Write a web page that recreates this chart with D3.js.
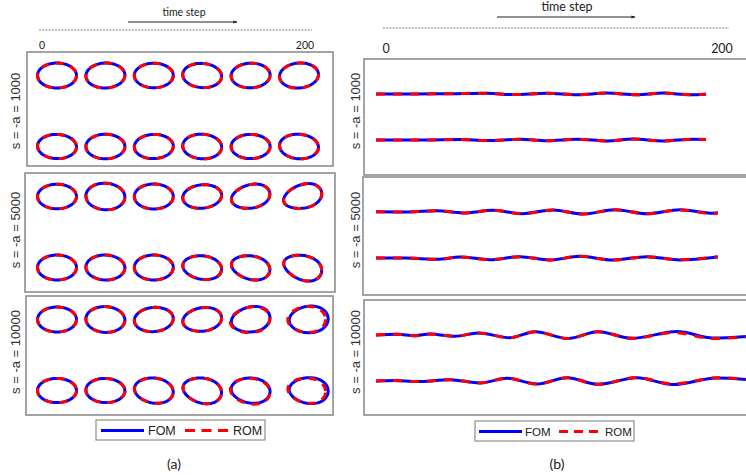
<!DOCTYPE html>
<html>
<head>
<meta charset="utf-8">
<script src="https://cdnjs.cloudflare.com/ajax/libs/d3/7.8.5/d3.min.js"></script>
<style>
body { margin: 0; background: #fff; }
svg { display: block; }
.hdr { font-family: Lato, "Open Sans", sans-serif; fill: #222; }
.lab { font-family: "Liberation Sans", Arial, sans-serif; fill: #333; }
</style>
</head>
<body>
<div id="graph"></div>
<script>
const W = 746, H = 475;
const blue = "#0000ff", red = "#ff0000";

const steps = [0, 40, 80, 120, 160, 200];
const sLabels = ["s = -a = 1000", "s = -a = 5000", "s = -a = 10000"];
const legendKeys = ["FOM", "ROM"];
const panelNames = ["(a)", "(b)"];

// (a) shape of the ring at each step: [panel][row][step]
const tilt = [
	[[0, -2, 0, 4, -2, -5], [2, 0, -2, 3, 0, 4]],
	[[0, 3, 0, -6, -12, -15], [0, 2, 0, 8, 12, 17]],
	[[0, 3, -5, -8, -10, -4], [0, 2, 8, 12, 6, 4]]
];
const aspect = [
	[[.64, .64, .63, .62, .63, .64], [.62, .63, .62, .63, .62, .63]],
	[[.63, .68, .64, .6, .6, .6], [.64, .64, .64, .6, .6, .62]],
	[[.64, .66, .62, .6, .64, .68], [.62, .62, .64, .64, .64, .66]]
];
const egg = [
	[[0, 0, 0, 0, 0, 0], [0, 0, 0, 0, 0, 0]],
	[[0, 0, 0, 0, .08, .12], [0, 0, 0, .05, .1, .14]],
	[[0, 0, 0, .05, .1, .08], [0, 0, .05, .1, .08, .1]]
];
const drift = [
	[[0, 0, 0, 0, 0, 0], [0, 0, 0, 0, 0, 0]],
	[[0, 0, 0, 0, 0, 3], [0, 0, 0, 0, 0, 3]],
	[[0, 0, 0, 0, 0, 8], [0, 0, 0, 0, 0, 8]]
];
// where ROM leaves FOM: panel, row, step index, dx, dy, scale, extra tilt
const romDev = [
	[2, 0, 4, -0.5, 0.5, 1.02, 2],
	[2, 0, 5, -2, 0, 0.97, 3],
	[2, 1, 4, -0.5, 0.5, 1.02, 2],
	[2, 1, 5, -2, 0, 0.97, 3]
];

// (b) beam deflection: [position 0-100, deflection]
const waveFOM = [
	[
		[[0, 0], [10, 0], [20, 0.3], [30, 0.8], [37, -0.6], [46.2, 0.8], [54.3, -0.7], [62.4, 0.9], [70.5, -0.7], [77.6, 0.9], [84.9, -0.7], [89.2, -0.2]],
		[[0, 0], [12, 0], [22.7, 0.6], [30, -0.6], [38.9, 0.8], [46.2, -0.8], [54.3, 0.8], [62.4, -0.9], [69.5, 0.9], [77.6, -0.9], [85.7, 0.8], [89.2, 0.4]]
	],
	[
		[[0, 0.2], [8.6, 0], [16.5, 1.3], [23.5, -1], [31.6, 1.7], [39.5, -1.7], [47.8, 2], [55.9, -2], [64.6, 2.3], [73.2, -1.7], [82.2, 2.3], [91.1, -1.3], [92.4, -0.8]],
		[[0, 0], [8, 0], [16.5, -1.3], [22.7, 1], [30.8, -1.7], [38.9, 1.3], [47, -2], [55.1, 1.7], [64, -2], [73.2, 1.3], [82.2, -2], [92.4, 1]]
	],
	[
		[[0, 0], [5.7, 0.7], [10.5, -0.7], [14.6, 1], [21.4, -1.3], [27.6, 2], [36.2, -2.7], [43, 3.3], [51.9, -3.5], [60, 3.3], [69.2, -3.3], [81.4, 3.5], [91.1, -3], [100, -1.5]],
		[[0, 0], [5, 0.6], [11, -0.6], [20, 1.3], [28.1, -2], [35.4, 2.7], [43.5, -3], [51.6, 3.3], [60, -3.3], [70.5, 3.3], [80.3, -3.6], [92.2, 3], [100, 1.5]]
	]
];
const waveROM = [
	waveFOM[0],
	[
		[[0, 0.2], [8.6, 0], [16.5, 1.3], [23.5, -1], [31.6, 1.7], [39.5, -1.7], [47.8, 2], [55.9, -2], [64.6, 2.3], [73.2, -1.7], [82.2, 2.0], [91.1, -1.6], [92.4, -1.1]],
		[[0, 0], [8, 0], [16.5, -1.3], [22.7, 1], [30.8, -1.7], [38.9, 1.3], [47, -2], [55.1, 1.7], [64, -2], [73.2, 1.3], [82.2, -1.6], [92.4, 1.3]]
	],
	[
		[[0, 0], [5.7, 0.7], [10.5, -0.7], [14.6, 1], [21.4, -1.3], [27.6, 2], [36.2, -2.7], [43, 3.3], [51.9, -3.5], [60, 3.3], [69.2, -3.3], [80.5, 2.4], [91.1, -3.5], [100, -1.8]],
		[[0, 0], [5, 0.6], [11, -0.6], [20, 1.3], [28.1, -2], [35.4, 2.7], [43.5, -3], [51.6, 3.3], [60, -3.3], [70.5, 3.5], [80.3, -2.9], [92.2, 3.2], [100, 1.6]]
	]
];

const svg = d3.select("#graph").append("svg")
	.attr("width", W)
	.attr("height", H);

const boxA = [{x: 27, y: 52, w: 306, h: 114}, {x: 25, y: 173, w: 310, h: 119}, {x: 26, y: 296, w: 307, h: 119}];
const boxB = [{x: 364, y: 59, w: 400, h: 116}, {x: 363, y: 177, w: 400, h: 118}, {x: 364, y: 300, w: 400, h: 115}];
const labelY = [111, 230, 352];

svg.append("defs").append("marker")
	.attr("id", "arrow")
	.attr("viewBox", "0 0 10 10")
	.attr("refX", 9).attr("refY", 5)
	.attr("markerWidth", 4).attr("markerHeight", 4)
	.attr("orient", "auto")
	.append("path").attr("d", "M0,1 L10,5 L0,9 Z").attr("fill", "#222");

// header: time axis above each half
function header(opt) {
	const x = d3.scaleLinear().domain([0, 200]).range(opt.range);
	svg.append("text").attr("class", "hdr")
		.attr("x", opt.titleX).attr("y", opt.titleY)
		.attr("text-anchor", "middle")
		.style("font-size", opt.fs + "px")
		.text("time step");
	svg.append("line")
		.attr("x1", opt.arrow[0]).attr("x2", opt.arrow[1])
		.attr("y1", opt.arrowY).attr("y2", opt.arrowY)
		.attr("stroke", "#222").attr("stroke-width", 1)
		.attr("marker-end", "url(#arrow)");
	svg.append("line")
		.attr("x1", opt.dash[0]).attr("x2", opt.dash[1])
		.attr("y1", opt.dashY).attr("y2", opt.dashY)
		.attr("stroke", "#777").attr("stroke-width", 1)
		.attr("stroke-dasharray", "2,1.2");
	svg.selectAll(null)
		.data([0, 200])
		.enter().append("text").attr("class", "hdr")
		.attr("x", (d) => x(d))
		.attr("y", opt.tickY)
		.attr("text-anchor", "middle")
		.style("font-size", opt.fs + "px")
		.text((d) => d);
}

header({range: [42, 305], titleX: 184, titleY: 16, fs: 10.5, arrow: [128, 237], arrowY: 22, dash: [39, 312], dashY: 30, tickY: 49});
header({range: [386, 722], titleX: 567, titleY: 11, fs: 12.5, arrow: [497, 635], arrowY: 17, dash: [383, 729], dashY: 28, tickY: 53});

function frames(boxes) {
	svg.selectAll(null)
		.data(boxes)
		.enter().append("rect")
		.attr("x", (d) => d.x).attr("y", (d) => d.y)
		.attr("width", (d) => d.w).attr("height", (d) => d.h)
		.attr("fill", "none")
		.attr("stroke", "#8e8e8e")
		.attr("stroke-width", 1.6);
}
frames(boxA);
frames(boxB);

[15, 355].forEach((lx) => {
	svg.selectAll(null)
		.data(sLabels)
		.enter().append("text").attr("class", "lab")
		.attr("transform", (d, i) => "translate(" + lx + "," + labelY[i] + ") rotate(-90)")
		.attr("dy", "0.35em")
		.attr("text-anchor", "middle")
		.style("font-size", "13px")
		.text((d) => d);
});

// (a) rings
const xCol = d3.scaleLinear().domain([0, 200]).range([57, 299]);
const ring = d3.line().curve(d3.curveLinearClosed);
const RX = 19.5;

function ringPoints(rx, ry, rot, eg) {
	const a = rot * Math.PI / 180, pts = [];
	for (let i = 0; i < 90; i++) {
		const t = i / 90 * 2 * Math.PI;
		const x = rx * Math.cos(t);
		const y = ry * Math.sin(t) * (1 + eg * Math.cos(t));
		pts.push([x * Math.cos(a) - y * Math.sin(a), x * Math.sin(a) + y * Math.cos(a)]);
	}
	return pts;
}

let rings = [];
boxA.forEach((b, p) => {
	[0, 1].forEach((r) => {
		steps.forEach((s, c) => {
			const dev = romDev.find((v) => v[0] === p && v[1] === r && v[2] === c);
			rings.push({
				cx: xCol(s + drift[p][r][c]),
				cy: b.y + 23.5 + r * 71,
				rot: tilt[p][r][c],
				ry: RX * aspect[p][r][c],
				egg: egg[p][r][c],
				dev: dev || [p, r, c, 0, 0, 1, 0]
			});
		});
	});
});

const g = svg.append("g");
g.selectAll(".fom")
	.data(rings)
	.enter().append("path")
	.attr("transform", (d) => "translate(" + d.cx + "," + d.cy + ")")
	.attr("d", (d) => ring(ringPoints(RX, d.ry, d.rot, d.egg)))
	.attr("fill", "none")
	.attr("stroke", blue)
	.attr("stroke-width", 3);

g.selectAll(".rom")
	.data(rings)
	.enter().append("path")
	.attr("transform", (d) => "translate(" + (d.cx + d.dev[3]) + "," + (d.cy + d.dev[4]) + ")")
	.attr("d", (d) => ring(ringPoints(RX * d.dev[5], d.ry * d.dev[5], d.rot + d.dev[6], d.egg)))
	.attr("fill", "none")
	.attr("stroke", red)
	.attr("stroke-width", 3)
	.attr("stroke-dasharray", "8,7");

// (b) beams
const xPos = d3.scaleLinear().domain([0, 100]).range([376, 746]);
const yDef = d3.scaleLinear().domain([-4, 4]).range([4, -4]);

boxB.forEach((b, p) => {
	[0, 1].forEach((r) => {
		const base = b.y + 35 + r * 46;
		const line = d3.line()
			.x((d) => xPos(d[0]))
			.y((d) => base + yDef(d[1]))
			.curve(d3.curveMonotoneX);
		svg.append("path")
			.attr("d", line(waveFOM[p][r]))
			.attr("fill", "none")
			.attr("stroke", blue)
			.attr("stroke-width", 3);
		svg.append("path")
			.attr("d", line(waveROM[p][r]))
			.attr("fill", "none")
			.attr("stroke", red)
			.attr("stroke-width", 3)
			.attr("stroke-dasharray", "9,8");
	});
});

// legends
function legend(opt) {
	const lg = svg.append("g").attr("transform", "translate(" + opt.x + "," + opt.y + ")");
	lg.append("rect")
		.attr("width", opt.w).attr("height", 20)
		.attr("fill", "#fff").attr("stroke", "#8e8e8e").attr("stroke-width", 1.2);
	lg.append("line")
		.attr("x1", opt.l1[0]).attr("x2", opt.l1[1]).attr("y1", 10.5).attr("y2", 10.5)
		.attr("stroke", blue).attr("stroke-width", 3);
	lg.append("line")
		.attr("x1", opt.l2[0]).attr("x2", opt.l2[1]).attr("y1", 10.5).attr("y2", 10.5)
		.attr("stroke", red).attr("stroke-width", 3)
		.attr("stroke-dasharray", opt.dash);
	lg.selectAll(null)
		.data(legendKeys)
		.enter().append("text").attr("class", "lab")
		.attr("x", (d, i) => opt.tx[i])
		.attr("y", 15)
		.style("font-size", opt.fs + "px")
		.style("fill", "#222")
		.text((d) => d);
}
legend({x: 96, y: 420, w: 169, l1: [5, 48], l2: [89, 132], tx: [52, 137], dash: "10,6.5", fs: 12.5});
legend({x: 475, y: 421, w: 159, l1: [4, 47], l2: [84, 123], tx: [50, 130], dash: "9,6", fs: 11.5});

svg.selectAll(null)
	.data(panelNames)
	.enter().append("text").attr("class", "hdr")
	.attr("x", (d, i) => [174, 557][i])
	.attr("y", 469)
	.attr("text-anchor", "middle")
	.style("font-size", "14px")
	.text((d) => d);
</script>
</body>
</html>
